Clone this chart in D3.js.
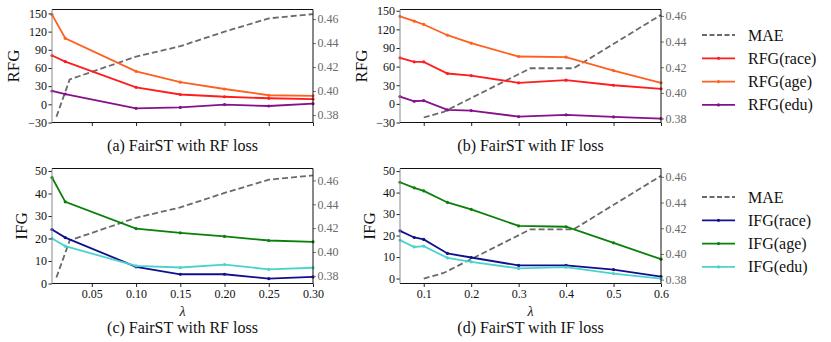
<!DOCTYPE html>
<html>
<head>
<meta charset="utf-8">
<script src="https://cdn.jsdelivr.net/npm/d3@7"></script>
<style>
  body { margin: 0; background: #fff; }
  text { font-family: "Liberation Serif", "Times New Roman", serif; }
</style>
</head>
<body>
<div id="chart"></div>
<script>
// lambda values (x)
var lamRF = [0.005, 0.02, 0.1, 0.15, 0.2, 0.25, 0.3];
var lamIF = [0.05, 0.08, 0.1, 0.15, 0.2, 0.3, 0.4, 0.5, 0.6];
var maeLamRF = [0.01, 0.025, 0.1, 0.15, 0.2, 0.25, 0.3];
var maeLamIF = [0.1, 0.142, 0.325, 0.416, 0.6];

// MAE (right axis)
var maeRF = [0.3786, 0.4097, 0.4287, 0.4374, 0.4495, 0.4606, 0.4642];
var maeIF = [0.3808, 0.3852, 0.4192, 0.4192, 0.4608];

// RFG
var rfgRaceRF = [80.5, 70.5, 28, 16.2, 12.5, 10, 8.7];
var rfgAgeRF  = [148, 109, 54.5, 36.5, 25.3, 15, 14];
var rfgEduRF  = [22, 17, -6.6, -5.2, -0.4, -2.8, 1];
var rfgRaceIF = [74.2, 67.7, 67.7, 48.9, 45.6, 33.9, 38.1, 30, 24.2];
var rfgAgeIF  = [140.8, 133.2, 127.9, 110.6, 97.7, 76.3, 75.2, 53.7, 33.9];
var rfgEduIF  = [11.8, 4.2, 5.3, -9.7, -10.8, -20.5, -17.7, -21, -23.7];

// IFG
var ifgRaceRF = [24, 20.4, 7.4, 4.1, 4.1, 2.2, 2.9];
var ifgAgeRF  = [47.1, 36.3, 24.4, 22.5, 20.9, 19.1, 18.5];
var ifgEduRF  = [20, 16.6, 7.8, 7.1, 8.4, 6.3, 7];
var ifgRaceIF = [22.2, 19.1, 18.2, 11.7, 9.8, 6.1, 6.1, 4.2, 0.9];
var ifgAgeIF  = [44.8, 42.2, 40.8, 35.4, 32.2, 24.5, 24.1, 16.6, 9.0];
var ifgEduIF  = [17.9, 14.7, 15.1, 9.6, 7.8, 4.7, 5.3, 2.3, 0];

// ticks / labels
var xTicksRF = [0.05, 0.1, 0.15, 0.2, 0.25, 0.3];
var xTicksIF = [0.1, 0.2, 0.3, 0.4, 0.5, 0.6];
var rfgTicks = [-30, 0, 30, 60, 90, 120, 150];
var ifgTicks = [0, 10, 20, 30, 40, 50];
var maeTicks = [0.38, 0.40, 0.42, 0.44, 0.46];
var rfgNames = ["RFG(race)", "RFG(age)", "RFG(edu)"];
var ifgNames = ["IFG(race)", "IFG(age)", "IFG(edu)"];
var titles = ["(a) FairST with RF loss", "(b) FairST with IF loss",
              "(c) FairST with RF loss", "(d) FairST with IF loss"];

var rfgColors = ["#ff1c1c", "#ff6020", "#85108a"];
var ifgColors = ["#10108c", "#0a800a", "#4ad3cd"];
var maeColor = "#6a6a6a";

var W = 831, H = 342;
var svg = d3.select("#chart").append("svg").attr("width", W).attr("height", H);

var cols = [[52, 313], [400, 661]];
var rows = [[9.5, 122.5], [168.5, 283.5]];

var panels = [
  {col: 0, row: 0, lam: lamRF, maeLam: maeLamRF, mae: maeRF, series: [rfgRaceRF, rfgAgeRF, rfgEduRF],
   colors: rfgColors, xdom: [0.005, 0.3], xt: xTicksRF, xfmt: null, ydom: [-30, 156.5], yt: rfgTicks,
   mdom: [0.3738, 0.468], ylab: "RFG", ylabX: 13},
  {col: 1, row: 0, lam: lamIF, maeLam: maeLamIF, mae: maeIF, series: [rfgRaceIF, rfgAgeIF, rfgEduIF],
   colors: rfgColors, xdom: [0.05, 0.6], xt: xTicksIF, xfmt: null, ydom: [-30, 152], yt: rfgTicks,
   mdom: [0.3769, 0.465], ylab: "RFG", ylabX: 361},
  {col: 0, row: 1, lam: lamRF, maeLam: maeLamRF, mae: maeRF, series: [ifgRaceRF, ifgAgeRF, ifgEduRF],
   colors: ifgColors, xdom: [0.005, 0.3], xt: xTicksRF, xfmt: d3.format(".2f"), ydom: [0, 51.1], yt: ifgTicks,
   mdom: [0.3736, 0.470], ylab: "IFG", ylabX: 21},
  {col: 1, row: 1, lam: lamIF, maeLam: maeLamIF, mae: maeIF, series: [ifgRaceIF, ifgAgeIF, ifgEduIF],
   colors: ifgColors, xdom: [0.05, 0.6], xt: xTicksIF, xfmt: d3.format(".1f"), ydom: [-2.3, 51.2], yt: ifgTicks,
   mdom: [0.377, 0.4665], ylab: "IFG", ylabX: 369}
];

panels.forEach(function (p, k) {
  var x0 = cols[p.col][0], x1 = cols[p.col][1];
  var y0 = rows[p.row][0], y1 = rows[p.row][1];
  var x = d3.scaleLinear().domain(p.xdom).range([x0, x1]);
  var y = d3.scaleLinear().domain(p.ydom).range([y1, y0]);
  var ym = d3.scaleLinear().domain(p.mdom).range([y1, y0]);
  var g = svg.append("g");

  // MAE dashed on twin axis
  var maePts = p.maeLam.map(function (l, i) { return [l, p.mae[i]]; });
  g.append("path")
    .datum(maePts)
    .attr("fill", "none")
    .attr("stroke", maeColor)
    .attr("stroke-width", 1.8)
    .attr("stroke-dasharray", "6,3")
    .attr("d", d3.line().x(function (d) { return x(d[0]); }).y(function (d) { return ym(d[1]); }));

  // fairness series
  p.series.forEach(function (vals, s) {
    var pts = p.lam.map(function (l, i) { return [l, vals[i]]; });
    g.append("path")
      .datum(pts)
      .attr("fill", "none")
      .attr("stroke", p.colors[s])
      .attr("stroke-width", 1.8)
      .attr("d", d3.line().x(function (d) { return x(d[0]); }).y(function (d) { return y(d[1]); }));
    g.selectAll(".m" + s)
      .data(pts)
      .enter()
      .append("circle")
      .attr("cx", function (d) { return x(d[0]); })
      .attr("cy", function (d) { return y(d[1]); })
      .attr("r", 1.6)
      .attr("fill", p.colors[s]);
  });

  // axes
  var xAxis = d3.axisBottom(x).tickValues(p.xt).tickSize(3.5).tickPadding(2.5)
    .tickFormat(p.xfmt ? p.xfmt : function () { return ""; });
  var gx = g.append("g").attr("transform", "translate(0," + y1 + ")").call(xAxis);
  var yAxis = d3.axisLeft(y).tickValues(p.yt).tickSize(3.5).tickPadding(1.5)
    .tickFormat(function (d) { return d < 0 ? "\u2212" + Math.abs(d) : d; });
  var gy = g.append("g").attr("transform", "translate(" + x0 + ",0)").call(yAxis);
  var mAxis = d3.axisRight(ym).tickValues(maeTicks).tickSize(3).tickPadding(1.5).tickFormat(d3.format(".2f"));
  var gm = g.append("g").attr("transform", "translate(" + x1 + ",0)").call(mAxis);

  [gx, gy, gm].forEach(function (a) {
    a.select(".domain").remove();
    a.selectAll("text").attr("font-family", "Liberation Serif").attr("font-size", 12);
  });
  gx.selectAll("line").attr("stroke", "#222");
  gy.selectAll("line").attr("stroke", "#222");
  gy.selectAll("text").attr("fill", "#111");
  gx.selectAll("text").attr("fill", "#111");
  gm.selectAll("line").attr("stroke", "#777");
  gm.selectAll("text").attr("fill", "#6a6a6a");

  // spines
  g.append("line").attr("x1", x0).attr("x2", x1).attr("y1", y0).attr("y2", y0).attr("stroke", "#111");
  g.append("line").attr("x1", x0).attr("x2", x1).attr("y1", y1).attr("y2", y1).attr("stroke", "#111");
  g.append("line").attr("x1", x1).attr("x2", x1).attr("y1", y0).attr("y2", y1).attr("stroke", "#111");
  g.append("line").attr("x1", x0).attr("x2", x0).attr("y1", y0).attr("y2", y1).attr("stroke", "#888");

  // y label
  g.append("text")
    .attr("transform", "translate(" + (p.ylabX + 6) + "," + ((y0 + y1) / 2) + ") rotate(-90)")
    .attr("text-anchor", "middle")
    .attr("font-size", 17)
    .attr("fill", "#111")
    .text(p.ylab);

  // x label on bottom row
  if (p.row === 1) {
    g.append("text")
      .attr("x", (x0 + x1) / 2).attr("y", 315.5)
      .attr("text-anchor", "middle")
      .attr("font-size", 14)
      .attr("font-style", "italic")
      .attr("fill", "#111")
      .text("\u03BB");
  }

  // caption
  g.append("text")
    .attr("x", (x0 + x1) / 2).attr("y", p.row === 0 ? 151 : 333)
    .attr("text-anchor", "middle")
    .attr("font-size", 16)
    .attr("fill", "#111")
    .text(titles[k]);
});

// legends
function legend(yTop, names, colors) {
  var items = [{name: "MAE", color: maeColor, dash: true}];
  names.forEach(function (n, i) { items.push({name: n, color: colors[i], dash: false}); });
  var lg = svg.append("g").attr("transform", "translate(702," + yTop + ")");
  items.forEach(function (it, i) {
    var yy = i * 23.3;
    lg.append("line")
      .attr("x1", 0).attr("x2", 33).attr("y1", yy).attr("y2", yy)
      .attr("stroke", it.color).attr("stroke-width", 1.8)
      .attr("stroke-dasharray", it.dash ? "5,2.5" : null);
    if (!it.dash) {
      lg.append("circle").attr("cx", 16.5).attr("cy", yy).attr("r", 1.6).attr("fill", it.color);
    }
    lg.append("text")
      .attr("x", 46).attr("y", yy + 5.5)
      .attr("font-size", 16)
      .attr("fill", "#111")
      .text(it.name);
  });
}
legend(35, rfgNames, rfgColors);
legend(197, ifgNames, ifgColors);
</script>
</body>
</html>
